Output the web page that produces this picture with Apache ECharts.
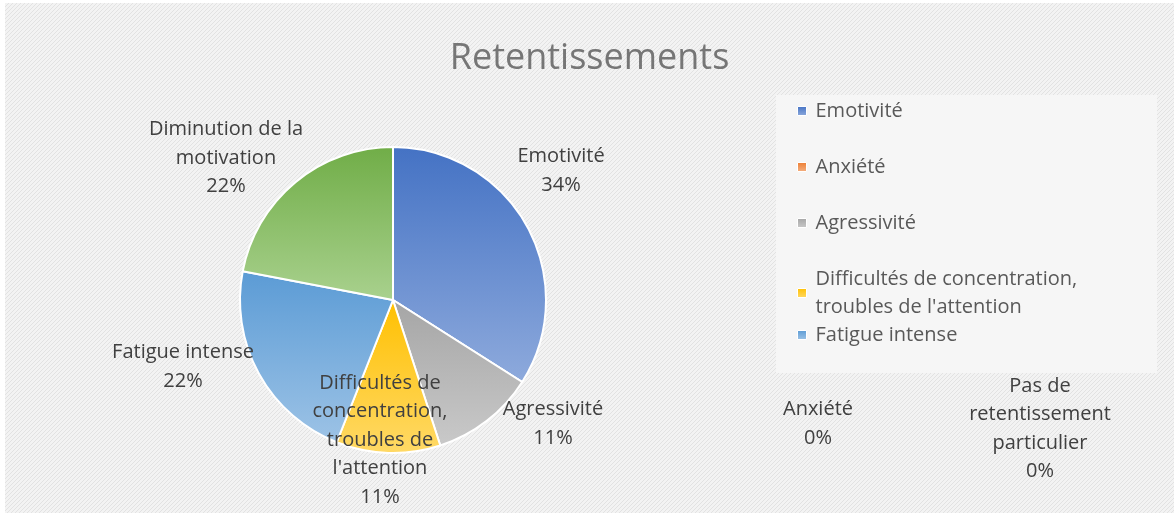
<!DOCTYPE html>
<html>
<head>
<meta charset="utf-8">
<script src="https://cdn.jsdelivr.net/npm/echarts@6/dist/echarts.min.js"></script>
<style>
  html, body { margin: 0; padding: 0; background: #fff; }
  #chart { position: absolute; left: 5px; top: 3px; width: 1169px; height: 510px; }
</style>
</head>
<body>
<div id="chart"></div>
<script>
// data
const categories = ['Emotivité', 'Anxiété', 'Agressivité',
  'Difficultés de concentration, troubles de l\'attention',
  'Fatigue intense', 'Diminution de la motivation', 'Pas de retentissement particulier']
const values = [34, 0, 11, 11, 22, 22, 0]
const labelTexts = ['Emotivité', 'Anxiété', 'Agressivité',
  'Difficultés de\nconcentration,\ntroubles de\nl\'attention',
  'Fatigue intense', 'Diminution de la\nmotivation', 'Pas de\nretentissement\nparticulier']

// excel-like colours (dark top -> light bottom)
const colorPairs = [
  ['#4472c4', '#8eaadc'],
  ['#ed7d31', '#f4b183'],
  ['#a5a5a5', '#c9c9c9'],
  ['#ffc000', '#ffd966'],
  ['#5b9bd5', '#9dc3e6'],
  ['#70ad47', '#a9d18e'],
  ['#264478', '#4472c4']
]

// label centres (chart coords)
const labelPos = [
  [556, 168], [813, 421], [548, 421], [375, 437], [178, 364], [221, 155], [1035, 426]
]

// hatch background
const pat = document.createElement('canvas')
pat.width = 4; pat.height = 4
const pc = pat.getContext('2d')
pc.fillStyle = '#f3f3f3'
pc.fillRect(0, 0, 4, 4)
pc.fillStyle = '#e2e2e2'
for (let i = 0; i < 4; i++) pc.fillRect(3 - i, i, 1, 1)

let chart = echarts.init(document.getElementById('chart'))

let seriesData = categories.map((c, i) => ({
  name: c,
  value: values[i],
  itemStyle: {
    color: new echarts.graphic.LinearGradient(0, 0, 0, 1, [
      { offset: 0, color: colorPairs[i][0] },
      { offset: 1, color: colorPairs[i][1] }
    ])
  },
  label: {
    formatter: labelTexts[i] + '\n' + values[i] + '%'
  }
}))

const fontFamily = '"Open Sans", "DejaVu Sans", sans-serif'
const legendText = { color: '#595959', fontSize: 20, lineHeight: 28, fontFamily: fontFamily, padding: [0, 0, 0, 4] }

chart.setOption({
  backgroundColor: { image: pat, repeat: 'repeat' },
  title: {
    text: 'Retentissements',
    left: 'center',
    top: 33,
    textStyle: {
      color: '#767676',
      fontSize: 36,
      fontWeight: 'normal',
      fontFamily: fontFamily
    }
  },
  graphic: [
    {
      type: 'rect',
      shape: { x: 771, y: 92, width: 381, height: 278 },
      style: { fill: '#f6f6f6' },
      z: -1
    }
  ],
  legend: [
    {
      orient: 'vertical',
      left: 787,
      top: 89,
      data: categories.slice(0, 4),
      icon: 'rect',
      itemWidth: 9,
      itemHeight: 9,
      itemGap: 28,
      itemStyle: { borderColor: '#fff', borderWidth: 1 },
      formatter: (name) => name.replace(', ', ',\n'),
      textStyle: legendText
    },
    {
      orient: 'vertical',
      left: 787,
      top: 313,
      data: [categories[4]],
      icon: 'rect',
      itemWidth: 9,
      itemHeight: 9,
      itemStyle: { borderColor: '#fff', borderWidth: 1 },
      textStyle: legendText
    }
  ],
  series: [
    {
      type: 'pie',
      center: [388, 297],
      radius: 153,
      startAngle: 90,
      clockwise: true,
      avoidLabelOverlap: false,
      data: seriesData,
      itemStyle: { borderColor: '#fff', borderWidth: 2 },
      label: {
        show: true,
        position: 'outside',
        color: '#404040',
        fontSize: 20,
        lineHeight: 28.5,
        align: 'center',
        fontFamily: fontFamily
      },
      labelLine: { show: false },
      labelLayout: (params) => ({
        x: labelPos[params.dataIndex][0],
        y: labelPos[params.dataIndex][1],
        align: 'center',
        verticalAlign: 'middle'
      }),
      emphasis: { scale: false }
    }
  ]
})
</script>
</body>
</html>
